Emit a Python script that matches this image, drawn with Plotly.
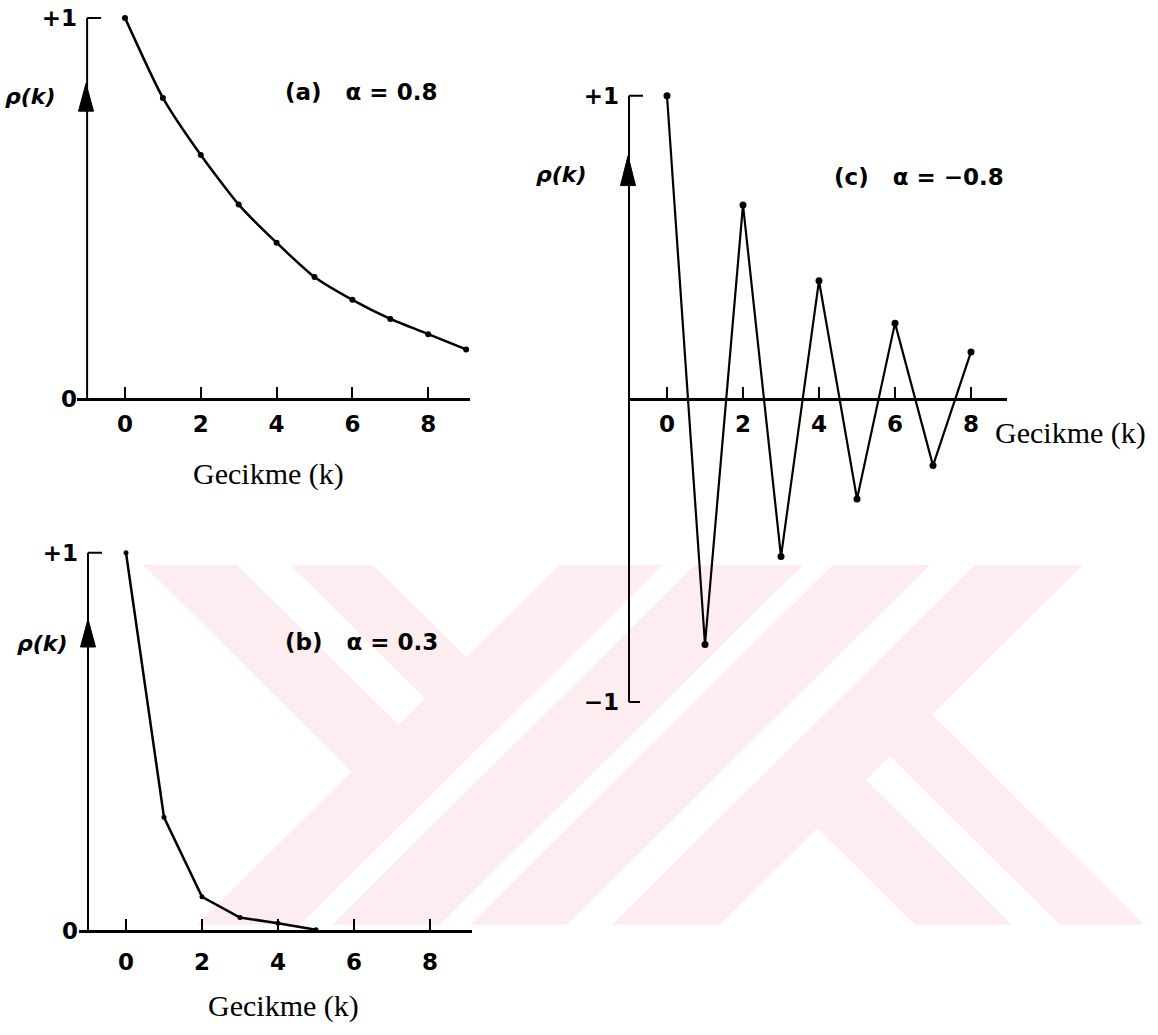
import plotly.graph_objects as go

W, H = 1158, 1035

# ---------------- data ----------------
lags_a = [0, 1, 2, 3, 4, 5, 6, 7, 8, 9]
rho_a = [1.0, 0.79, 0.64, 0.51, 0.41, 0.32, 0.26, 0.21, 0.17, 0.13]

lags_b = [0, 1, 2, 3, 4, 5]
rho_b = [1.0, 0.30, 0.09, 0.035, 0.02, 0.003]

lags_c = [0, 1, 2, 3, 4, 5, 6, 7, 8]
rho_c = [1.0, -0.81, 0.64, -0.52, 0.39, -0.33, 0.25, -0.22, 0.155]

x_tick_vals = [0, 2, 4, 6, 8]
x_tick_text = ["0", "2", "4", "6", "8"]
y_tick_vals_ab = [0, 1]
y_tick_text_ab = ["0", "+1"]
y_tick_vals_c = [-1, 1]
y_tick_text_c = ["\u22121", "+1"]

panel_labels = ["(a)\u00a0\u00a0\u00a0\u03b1 = 0.8",
                "(b)\u00a0\u00a0\u00a0\u03b1 = 0.3",
                "(c)\u00a0\u00a0\u00a0\u03b1 = \u22120.8"]
x_title = "Gecikme (k)"
y_title = "<i>\u03c1(k)</i>"

SANS = "DejaVu Sans"
SERIF = "Liberation Serif"


def px(x):
    return x / W


def py(y):
    return 1 - y / H


# panel geometry in page pixels
geo = {
    "a": dict(k0=125, ppu=37.9, xl=77, xr=470, y0=398, ypu=384, ylo=-0.03, yhi=1.03),
    "b": dict(k0=126, ppu=38.0, xl=79, xr=472, y0=934, ypu=381, ylo=-0.03, yhi=1.03),
    "c": dict(k0=667, ppu=38.0, xl=628, xr=1007, y0=398, ypu=305.5, ylo=-1.03, yhi=1.03),
}


def xdom(g):
    return [px(g["xl"]), px(g["xr"])], [(g["xl"] - g["k0"]) / g["ppu"], (g["xr"] - g["k0"]) / g["ppu"]]


def ydom(g):
    top = g["y0"] - g["yhi"] * g["ypu"]
    bot = g["y0"] - g["ylo"] * g["ypu"]
    return [py(bot), py(top)], [g["ylo"], g["yhi"]]


fig = go.Figure()

fig.add_trace(go.Scatter(x=lags_a, y=rho_a, mode="lines+markers", xaxis="x", yaxis="y",
                         line=dict(color="black", width=2.5, shape="spline", smoothing=0.6),
                         marker=dict(color="black", size=6), cliponaxis=False, showlegend=False))
fig.add_trace(go.Scatter(x=lags_b, y=rho_b, mode="lines+markers", xaxis="x2", yaxis="y2",
                         line=dict(color="black", width=2.5),
                         marker=dict(color="black", size=5), cliponaxis=False, showlegend=False))
fig.add_trace(go.Scatter(x=lags_c, y=rho_c, mode="lines+markers", xaxis="x3", yaxis="y3",
                         line=dict(color="black", width=2.2),
                         marker=dict(color="black", size=7), cliponaxis=False, showlegend=False))

tick_font = dict(family=SANS, size=23, color="black", weight="bold")

layout_axes = {}
shapes = []
annotations = []

for i, key in enumerate(["a", "b", "c"]):
    g = geo[key]
    sfx = "" if i == 0 else str(i + 1)
    xd, xr = xdom(g)
    yd, yr = ydom(g)
    layout_axes["xaxis" + sfx] = dict(
        domain=xd, range=xr, anchor="free", position=py(g["y0"]),
        showline=True, linecolor="black", linewidth=2.5,
        ticks="inside", ticklen=11, tickwidth=2, tickcolor="black",
        tickvals=x_tick_vals, ticktext=x_tick_text,
        tickfont=tick_font,
        ticklabelstandoff=4 if key != "b" else 10,
        showgrid=False, zeroline=False, fixedrange=True,
    )
    ax_x = px(g["k0"] - g["ppu"])  # y-axis sits at k = -1
    layout_axes["yaxis" + sfx] = dict(
        domain=yd, range=yr, anchor="free", position=ax_x,
        showline=False, ticks="",
        tickvals=y_tick_vals_c if key == "c" else y_tick_vals_ab,
        ticktext=y_tick_text_c if key == "c" else y_tick_text_ab,
        tickfont=tick_font,
        ticklabelstandoff=10,
        showgrid=False, zeroline=False, fixedrange=True,
    )
    xref, yref = "x" + sfx, "y" + sfx
    ybot = -1 if key == "c" else 0
    # vertical axis line
    shapes.append(dict(type="line", xref=xref, yref=yref, x0=-1, x1=-1, y0=ybot, y1=1,
                       line=dict(color="black", width=2)))
    # end ticks
    shapes.append(dict(type="line", xref=xref, yref=yref, x0=-1, x1=-1 + 14 / g["ppu"], y0=1, y1=1,
                       line=dict(color="black", width=2)))
    if key == "c":
        shapes.append(dict(type="line", xref=xref, yref=yref, x0=-1, x1=-1 + 11 / g["ppu"], y0=-1, y1=-1,
                           line=dict(color="black", width=2)))

# arrows on the vertical axes (tip / base in page pixels)
arrows = {"a": (80, 108, 86), "b": (620, 648, 88), "c": (153, 183, 628)}
for key, (tip, base, xx) in arrows.items():
    hw = 7.5
    shapes.append(dict(type="path", xref="paper", yref="paper",
                       path=f"M {px(xx)},{py(tip)} L {px(xx - hw)},{py(base)} L {px(xx + hw)},{py(base)} Z",
                       fillcolor="black", line=dict(color="black", width=1)))

# faint watermark in the background (page pixels)
wm = [
    [(143, 565), (237, 565), (398.5, 726.5), (351.5, 773.5)],
    [(290, 565), (373, 565), (466.5, 658.5), (425, 700)],
    [(560, 565), (663, 565), (300, 928), (197, 928)],
    [(695, 565), (803, 565), (440, 928), (332, 928)],
    [(833, 565), (930, 565), (567, 928), (470, 928)],
    [(975, 565), (1083, 565), (720, 928), (612, 928)],
    [(817.5, 830.5), (866, 782), (1012, 928), (915, 928)],
    [(890, 758), (932, 716), (1144, 928), (1060, 928)],
]
for poly in wm:
    path = "M " + " L ".join(f"{px(x)},{py(y)}" for x, y in poly) + " Z"
    shapes.append(dict(type="path", xref="paper", yref="paper", path=path, layer="below",
                       fillcolor="#fdedf0", line=dict(width=0)))

# texts
for (x, y, t) in [(283, 89, panel_labels[0]), (283, 643, panel_labels[1]), (832, 174, panel_labels[2])]:
    annotations.append(dict(xref="paper", yref="paper", x=px(x), y=py(y), text=t, showarrow=False,
                            xanchor="left", yanchor="middle", font=tick_font))
for (x, y) in [(58, 93), (70, 644), (589, 172)]:
    annotations.append(dict(xref="paper", yref="paper", x=px(x), y=py(y), text=y_title, showarrow=False,
                            xanchor="right", yanchor="middle",
                            font=dict(family=SANS, size=22, color="black", weight="bold")))
for (x, y, anc) in [(268, 474, "center"), (283, 1010, "center"), (993, 432, "left")]:
    annotations.append(dict(xref="paper", yref="paper", x=px(x), y=py(y), text=x_title, showarrow=False,
                            xanchor=anc, yanchor="middle", font=dict(family=SERIF, size=30, color="black")))

fig.update_layout(
    width=W, height=H,
    margin=dict(l=0, r=0, t=0, b=0),
    paper_bgcolor="white", plot_bgcolor="rgba(0,0,0,0)",
    showlegend=False,
    shapes=shapes, annotations=annotations,
    **layout_axes,
)

fig.write_html("out.html", config={"displayModeBar": False},
               post_script="document.body.style.margin='0';document.body.style.overflow='hidden';")
